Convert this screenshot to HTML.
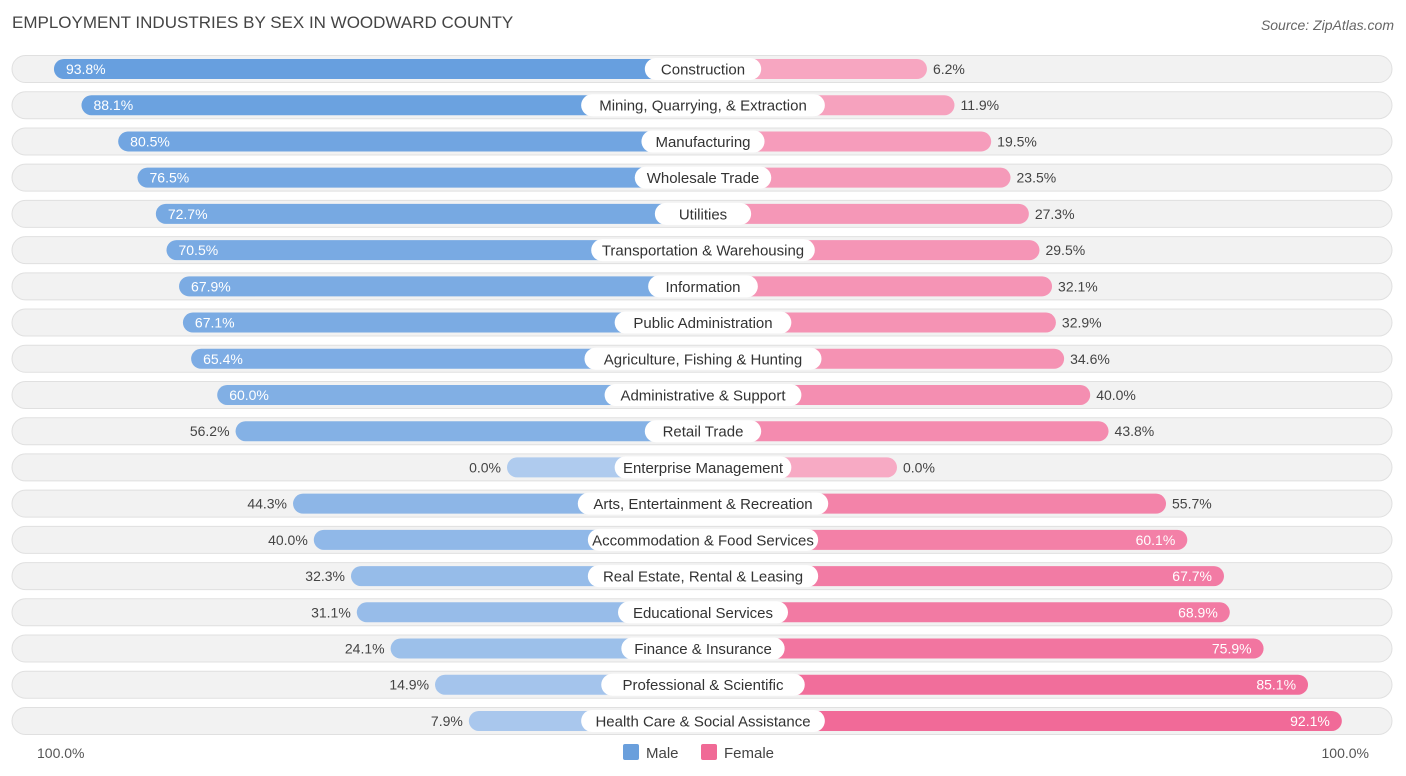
<!DOCTYPE html>
<html><head><meta charset="utf-8"><style>
body{margin:0;background:#fff;font-family:"Liberation Sans",sans-serif;}
#c{position:relative;width:1406px;height:776px;overflow:hidden}
</style></head><body>
<div id="c">
<svg id="s" width="1406" height="776"></svg>
</div>
<script>
const categories=["Construction","Mining, Quarrying, & Extraction","Manufacturing","Wholesale Trade","Utilities","Transportation & Warehousing","Information","Public Administration","Agriculture, Fishing & Hunting","Administrative & Support","Retail Trade","Enterprise Management","Arts, Entertainment & Recreation","Accommodation & Food Services","Real Estate, Rental & Leasing","Educational Services","Finance & Insurance","Professional & Scientific","Health Care & Social Assistance"];
const male=[93.8,88.1,80.5,76.5,72.7,70.5,67.9,67.1,65.4,60.0,56.2,0.0,44.3,40.0,32.3,31.1,24.1,14.9,7.9];
const female=[6.2,11.9,19.5,23.5,27.3,29.5,32.1,32.9,34.6,40.0,43.8,0.0,55.7,60.1,67.7,68.9,75.9,85.1,92.1];
const NS="http://www.w3.org/2000/svg",s=document.getElementById('s');
function el(t,a,txt){const e=document.createElementNS(NS,t);for(const k in a)e.setAttribute(k,a[k]);if(txt!==undefined)e.textContent=txt;s.appendChild(e);return e;}
const cx=703,m0=507,f0=897,k=4.83;
const mx=v=>m0-k*v, fx=v=>f0+k*v;
const rowY=i=>69+i*36.22;
function mix(a,b,t){return 'rgb('+a.map((x,i)=>Math.round(x+(b[i]-x)*t)).join(',')+')';}
let t=el('text',{x:12,y:28,'font-size':17,fill:'#444'},'EMPLOYMENT INDUSTRIES BY SEX IN WOODWARD COUNTY');

t=el('text',{x:1394,y:30,'font-size':14,fill:'#666','text-anchor':'end','font-style':'italic'},'Source: ZipAtlas.com');

categories.forEach((c,i)=>{
 const y=rowY(i);
 let r=el('rect',{x:12,y:y-13.5,width:1380,height:27,rx:13.5,fill:'#f2f2f2',stroke:'#e0e0e0'});
 
 const mv=male[i],fv=female[i];
 let b=el('rect',{x:mx(mv),y:y-10,width:cx-mx(mv),height:20,rx:10,fill:mix([175,203,238],[98,156,222],mv/100)});
 
 b=el('rect',{x:cx,y:y-10,width:fx(fv)-cx,height:20,rx:10,fill:mix([247,170,196],[240,100,148],fv/100)});
 
 const mIn=mv>=58,fIn=fv>=58;
 t=el('text',{x:mIn?mx(mv)+12:mx(mv)-6,y:y+5,'font-size':14,fill:mIn?'#fff':'#444','text-anchor':mIn?'start':'end'},mv.toFixed(1)+'%');
 
 t=el('text',{x:fIn?fx(fv)-12:fx(fv)+6,y:y+5,'font-size':14,fill:fIn?'#fff':'#444','text-anchor':fIn?'end':'start'},fv.toFixed(1)+'%');
 
 const w=c.length*6.7+36;
 let p=el('rect',{x:cx-w/2,y:y-11,width:w,height:22,rx:11,fill:'#fff'});
 
 t=el('text',{x:cx,y:y+5.5,'font-size':15,fill:'#333','text-anchor':'middle'},c);
 
});
t=el('text',{x:37,y:758,'font-size':14,fill:'#555'},'100.0%');

t=el('text',{x:1369,y:758,'font-size':14,fill:'#555','text-anchor':'end'},'100.0%');

let l=el('rect',{x:623,y:744,width:16,height:16,rx:2,fill:'#6a9fdc'});

t=el('text',{x:646,y:758,'font-size':15,fill:'#444'},'Male');

l=el('rect',{x:701,y:744,width:16,height:16,rx:2,fill:'#f06a96'});

t=el('text',{x:724,y:758,'font-size':15,fill:'#444'},'Female');

</script>
</body></html>
